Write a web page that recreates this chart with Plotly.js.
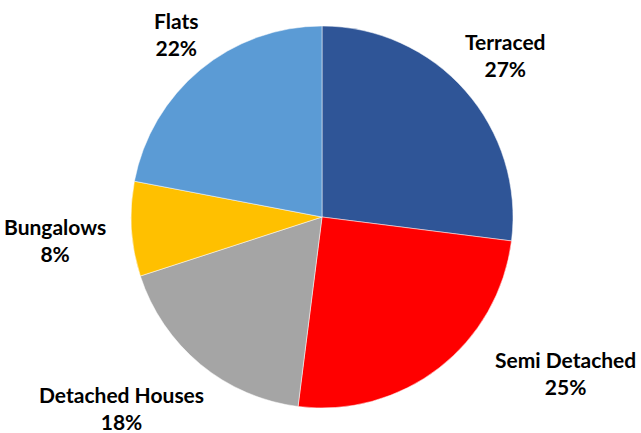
<!DOCTYPE html>
<html><head><meta charset="utf-8">
<script src="https://cdn.plot.ly/plotly-3.0.1.min.js"></script>
<style>html,body{margin:0;padding:0;background:#fff}#chart{width:641px;height:433px}</style>
</head><body><div id="chart"></div>
<script>
var categories = ["Terraced", "Semi Detached", "Detached Houses", "Bungalows", "Flats"];
var shares = [27, 25, 18, 8, 22];
var colors = ["#2F5597", "#FF0000", "#A5A5A5", "#FFC000", "#5B9BD5"];

var W = 641, H = 433;
// label block centres in pixels (layout only, one per category)
var labelCentres = [[505, 55], [565, 373], [121, 408], [55, 240], [176, 34]];

var trace = {
  type: "pie",
  labels: categories,
  values: shares,
  sort: false,
  direction: "clockwise",
  rotation: 0,
  marker: {colors: colors, line: {color: "#ffffff", width: 0.5}},
  textinfo: "none",
  hoverinfo: "none",
  showlegend: false,
  automargin: false,
  domain: {x: [3 / W, 1], y: [25 / H, 1 - 26 / H]}
};

var annotations = categories.map(function (c, i) {
  return {
    xref: "paper", yref: "paper",
    x: labelCentres[i][0] / W,
    y: 1 - labelCentres[i][1] / H,
    xanchor: "center", yanchor: "middle",
    align: "center",
    showarrow: false,
    text: c + "<br>" + shares[i] + "%",
    font: {family: "Lato, 'Open Sans', sans-serif", size: 21, color: "#000000", weight: "bold"}
  };
});

var layout = {
  width: W, height: H,
  margin: {l: 0, r: 0, t: 0, b: 0},
  paper_bgcolor: "#ffffff",
  plot_bgcolor: "#ffffff",
  showlegend: false,
  annotations: annotations
};

Plotly.newPlot("chart", [trace], layout, {displayModeBar: false, staticPlot: true});
</script></body></html>
